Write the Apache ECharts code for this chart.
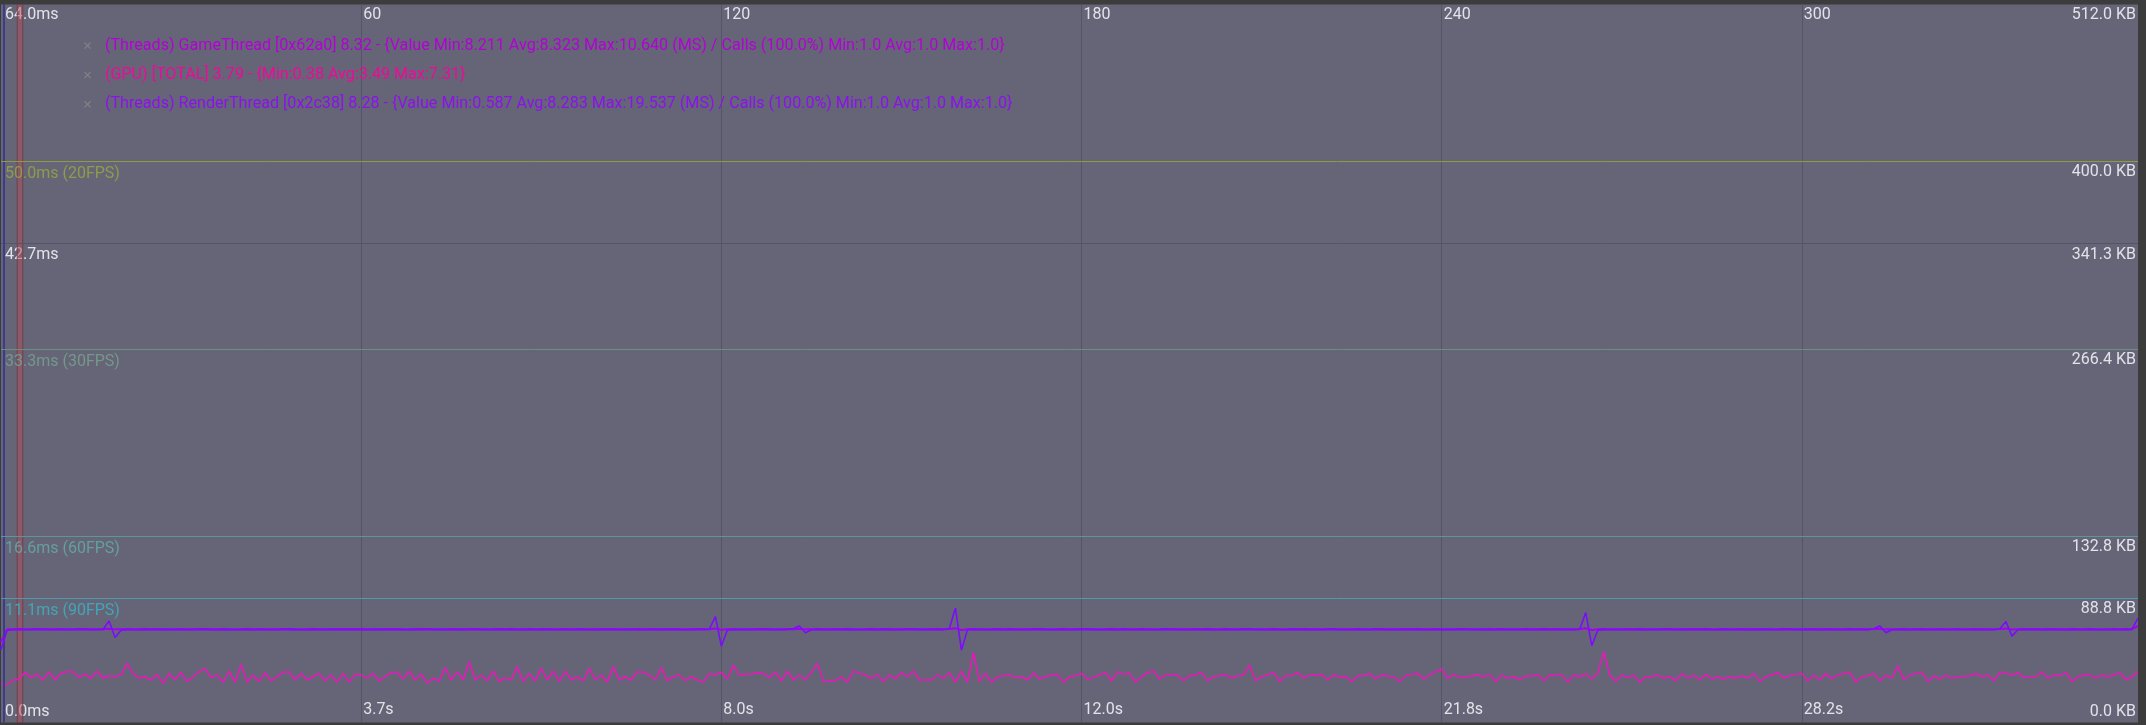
<!DOCTYPE html>
<html><head><meta charset="utf-8">
<script src="https://cdn.jsdelivr.net/npm/echarts@6/dist/echarts.min.js"></script>
<style>html,body{margin:0;padding:0;background:#3c3c3c;}#c{width:2146px;height:725px;}</style>
</head><body><div id="c"></div>
<script>
// ---- data ----
const frameTicks = [60, 120, 180, 240, 300];
const timeLabels = ['3.7s', '8.0s', '12.0s', '21.8s', '28.2s'];
const msTicks = [0, 42.667, 64];
const kbTicks = [0, 88.8, 132.8, 266.4, 341.3, 400, 512];
const fpsLines = [[50.0, 20], [33.3, 30], [16.6, 60], [11.1, 90]];
const seriesNames = [
  '(Threads) GameThread [0x62a0] 8.32 - {Value Min:8.211 Avg:8.323 Max:10.640 (MS) / Calls (100.0%) Min:1.0 Avg:1.0 Max:1.0}',
  '(GPU) [TOTAL] 3.79 - {Min:0.38 Avg:3.49 Max:7.31}',
  '(Threads) RenderThread [0x2c38] 8.28 - {Value Min:0.587 Avg:8.283 Max:19.537 (MS) / Calls (100.0%) Min:1.0 Avg:1.0 Max:1.0}'
];
const gameThread = [
7.20,8.30,8.32,8.33,8.32,8.31,8.33,8.34,8.32,8.32,8.33,8.31,8.32,8.34,8.33,8.32,8.31,8.32,8.36,8.30,
8.32,8.33,8.32,8.31,8.33,8.32,8.34,8.32,8.31,8.32,8.33,8.32,8.32,8.34,8.33,8.31,8.32,8.33,8.32,8.31,
8.32,8.34,8.32,8.33,8.32,8.31,8.32,8.33,8.34,8.32,8.31,8.32,8.33,8.32,8.32,8.31,8.33,8.32,8.34,8.32,
8.33,8.32,8.31,8.32,8.34,8.32,8.33,8.32,8.31,8.32,8.33,8.34,8.32,8.32,8.31,8.33,8.32,8.32,8.34,8.33,
8.32,8.31,8.32,8.33,8.32,8.34,8.32,8.31,8.33,8.32,8.32,8.33,8.31,8.32,8.34,8.32,8.33,8.32,8.31,8.32,
8.33,8.32,8.34,8.32,8.31,8.32,8.33,8.32,8.32,8.34,8.31,8.32,8.33,8.32,8.32,8.31,8.33,8.34,8.32,8.38,
8.26,8.32,8.33,8.32,8.31,8.32,8.34,8.33,8.32,8.31,8.32,8.33,8.32,8.36,8.30,8.32,8.33,8.31,8.32,8.34,
8.32,8.33,8.32,8.31,8.32,8.34,8.32,8.33,8.32,8.31,8.32,8.33,8.34,8.32,8.31,8.32,8.33,8.32,8.34,8.40,
8.24,8.32,8.33,8.32,8.31,8.32,8.34,8.32,8.33,8.31,8.32,8.32,8.33,8.34,8.32,8.31,8.32,8.33,8.32,8.32,
8.34,8.33,8.31,8.32,8.32,8.33,8.32,8.34,8.31,8.32,8.33,8.32,8.32,8.31,8.34,8.33,8.32,8.32,8.31,8.33,
8.32,8.34,8.32,8.31,8.33,8.32,8.32,8.33,8.34,8.31,8.32,8.32,8.33,8.32,8.31,8.34,8.32,8.33,8.32,8.32,
8.31,8.33,8.34,8.32,8.32,8.31,8.33,8.32,8.32,8.34,8.33,8.31,8.32,8.32,8.33,8.32,8.34,8.31,8.32,8.33,
8.32,8.32,8.31,8.34,8.33,8.32,8.32,8.31,8.33,8.32,8.34,8.32,8.31,8.32,8.33,8.32,8.32,8.34,8.31,8.33,
8.32,8.32,8.31,8.33,8.40,8.24,8.32,8.33,8.32,8.31,8.32,8.34,8.32,8.33,8.32,8.31,8.32,8.33,8.34,8.32,
8.31,8.32,8.33,8.32,8.34,8.32,8.31,8.33,8.32,8.32,8.34,8.31,8.32,8.33,8.32,8.32,8.31,8.34,8.33,8.32,
8.32,8.31,8.33,8.32,8.34,8.32,8.32,8.31,8.33,8.32,8.34,8.32,8.33,8.36,8.30,8.32,8.31,8.33,8.32,8.32,
8.34,8.32,8.31,8.33,8.32,8.32,8.34,8.31,8.32,8.33,8.32,8.32,8.31,8.33,8.38,8.28,8.32,8.33,8.32,8.34,
8.32,8.31,8.33,8.32,8.32,8.34,8.31,8.32,8.33,8.32,8.32,8.31,8.33,8.32,8.34,8.32,8.60
];
const gpuTotal = [
3.49,3.34,3.79,3.85,4.47,4.00,4.32,3.79,4.53,3.79,4.38,4.53,4.53,4.00,4.32,3.94,4.59,3.94,4.17,4.08,
4.23,5.27,4.38,3.94,4.08,3.79,4.29,3.49,4.38,3.79,4.47,3.64,4.08,4.53,4.83,4.00,4.23,3.58,4.59,3.58,
5.18,3.58,4.23,3.64,4.44,3.70,4.08,4.47,4.53,3.79,4.38,3.79,4.08,4.38,3.70,4.23,3.58,4.38,3.58,4.29,
4.23,3.94,4.38,3.70,4.08,4.44,4.47,3.88,4.59,3.79,4.32,3.49,3.94,3.70,4.89,3.79,4.53,3.79,5.42,3.79,
4.23,3.70,4.59,3.64,4.00,3.79,4.98,3.64,4.38,3.70,4.83,3.79,4.59,3.64,4.59,3.79,4.08,3.70,4.83,3.79,
4.23,3.58,4.98,3.79,4.08,3.79,4.53,4.47,4.23,3.79,4.89,3.70,4.08,4.23,3.70,4.08,3.79,3.58,4.38,4.23,
4.47,3.88,5.12,4.23,4.29,4.32,4.44,4.38,4.00,4.53,3.70,4.59,3.79,4.23,3.79,4.47,5.27,3.70,3.70,3.70,
4.08,3.58,4.59,4.38,4.23,3.94,4.29,3.64,4.23,3.88,4.44,4.08,4.59,3.79,3.79,3.79,4.23,3.94,4.44,3.58,
4.59,3.58,6.25,3.64,4.38,3.58,4.08,4.17,4.23,4.00,4.08,3.79,4.44,3.88,4.08,4.23,4.29,3.58,4.08,4.17,
4.38,3.85,4.00,4.23,4.47,3.70,4.53,4.29,4.38,3.58,4.08,4.44,4.59,3.88,4.23,4.23,4.23,3.70,4.17,4.23,
4.47,3.70,4.08,4.17,4.29,3.94,4.14,4.23,5.12,3.70,4.08,4.23,4.47,3.64,4.17,4.17,4.47,3.94,4.23,4.23,
4.29,3.79,4.23,4.08,4.11,3.64,4.17,4.17,4.38,3.88,4.23,4.14,4.08,3.64,4.17,4.29,4.38,3.88,4.23,4.53,
4.77,3.94,4.29,4.00,4.08,4.14,4.23,4.08,4.29,3.64,4.23,3.94,4.08,3.79,4.14,4.14,4.29,3.70,4.23,4.17,
4.29,3.58,4.23,4.08,4.35,3.88,4.38,6.31,4.23,3.64,4.23,4.00,4.23,3.58,4.08,4.08,4.23,3.94,4.08,3.70,
4.38,3.94,4.23,3.79,4.29,3.88,4.08,3.88,4.08,3.94,4.17,3.94,4.38,3.64,4.08,4.23,4.47,3.94,4.17,4.29,
4.38,3.70,4.23,3.79,4.38,3.88,4.23,4.38,4.47,3.58,4.08,4.17,4.38,3.70,4.23,3.94,5.04,3.79,4.23,4.38,
4.47,3.64,4.14,3.88,4.23,3.94,4.08,4.11,4.17,4.38,4.08,4.23,3.70,4.47,4.38,4.23,4.44,4.00,4.08,4.08,
4.53,3.94,4.23,4.17,4.47,3.64,4.08,4.23,4.23,3.94,4.23,4.08,4.23,4.47,3.79,4.08,4.53
];
const renderThread = [
6.50,8.20,8.27,8.29,8.26,8.28,8.30,8.27,8.28,8.26,8.29,8.28,8.27,8.30,8.28,8.26,8.28,8.29,9.05,7.58,
8.22,8.28,8.27,8.29,8.28,8.26,8.28,8.30,8.27,8.28,8.29,8.26,8.28,8.27,8.30,8.28,8.26,8.29,8.28,8.27,
8.28,8.30,8.26,8.28,8.27,8.29,8.28,8.26,8.30,8.28,8.27,8.28,8.29,8.26,8.28,8.30,8.27,8.28,8.26,8.29,
8.28,8.27,8.30,8.28,8.26,8.28,8.29,8.27,8.28,8.30,8.26,8.28,8.27,8.29,8.28,8.26,8.30,8.28,8.27,8.28,
8.29,8.26,8.28,8.30,8.27,8.28,8.26,8.29,8.28,8.27,8.30,8.28,8.26,8.28,8.29,8.27,8.28,8.30,8.26,8.28,
8.27,8.29,8.28,8.26,8.30,8.28,8.27,8.28,8.29,8.26,8.28,8.30,8.27,8.28,8.26,8.29,8.28,8.27,8.30,9.45,
6.80,8.25,8.28,8.27,8.29,8.28,8.26,8.28,8.30,8.27,8.28,8.29,8.35,8.60,8.00,8.26,8.28,8.27,8.29,8.28,
8.26,8.30,8.28,8.27,8.28,8.29,8.26,8.28,8.30,8.27,8.28,8.26,8.29,8.28,8.27,8.30,8.28,8.26,8.40,10.20,
6.45,8.26,8.28,8.29,8.27,8.28,8.30,8.26,8.28,8.27,8.29,8.28,8.26,8.30,8.28,8.27,8.28,8.29,8.26,8.28,
8.30,8.27,8.28,8.26,8.29,8.28,8.27,8.30,8.28,8.26,8.28,8.29,8.27,8.28,8.30,8.26,8.28,8.27,8.29,8.28,
8.26,8.30,8.28,8.27,8.28,8.29,8.26,8.28,8.30,8.27,8.28,8.26,8.29,8.28,8.27,8.30,8.28,8.26,8.28,8.29,
8.27,8.28,8.30,8.26,8.28,8.27,8.29,8.28,8.26,8.30,8.28,8.27,8.28,8.29,8.26,8.28,8.30,8.27,8.28,8.26,
8.29,8.28,8.27,8.30,8.28,8.26,8.28,8.29,8.27,8.28,8.30,8.26,8.28,8.27,8.29,8.28,8.26,8.30,8.28,8.27,
8.28,8.29,8.26,8.30,9.80,6.85,8.22,8.28,8.27,8.29,8.28,8.26,8.28,8.30,8.27,8.28,8.29,8.26,8.28,8.27,
8.30,8.28,8.26,8.29,8.28,8.27,8.28,8.30,8.26,8.28,8.27,8.29,8.28,8.26,8.30,8.28,8.27,8.28,8.29,8.26,
8.28,8.30,8.27,8.28,8.26,8.29,8.28,8.27,8.30,8.28,8.26,8.28,8.35,8.60,8.00,8.27,8.29,8.28,8.26,8.30,
8.28,8.27,8.28,8.29,8.26,8.28,8.30,8.27,8.28,8.26,8.29,8.28,8.27,8.35,9.00,7.70,8.26,8.28,8.29,8.27,
8.28,8.30,8.26,8.28,8.27,8.29,8.28,8.26,8.30,8.28,8.27,8.28,8.29,8.26,8.28,8.30,9.30
];

// ---- styles ----
const lineColors = ['#a400f4', '#f014be', '#7c0cff'];
const legendTextColors = ['#b400d8', '#f0089c', '#8c10f0'];
const fpsLineColors = ['#8e9c3e', '#6c9080', '#5c9696', '#4a9cae'];
const fpsLabelColors = ['#8e9c4a', '#74988a', '#62a0a0', '#40a6b8'];
const FONT = 'Roboto';
const labelColor = '#e2e2ea';
const maxFrame = gameThread.length - 1;

const chart = echarts.init(document.getElementById('c'), null, {renderer: 'canvas'});

function shifted(text, isBottom) {
  return isBottom ? '{b|' + text + '}' : '{t|' + text + '}';
}
const richShift = {
  t: {padding: [22, 0, 0, 0], color: labelColor, fontSize: 16, fontFamily: FONT},
  b: {padding: [0, 0, 22, 0], color: labelColor, fontSize: 16, fontFamily: FONT}
};

const toPairs = arr => arr.map((v, i) => [i, v]);

const option = {
  backgroundColor: '#3c3c3c',
  animation: false,
  grid: {left: 1, right: 8, top: 4.4, bottom: 2.5, show: true, backgroundColor: '#666577', borderWidth: 0, containLabel: false},
  legend: {
    orient: 'vertical', left: 79, top: 31, itemGap: 10.4, itemWidth: 25, itemHeight: 7,
    icon: 'path://M0,1 L1,0 L4,3 L7,0 L8,1 L5,4 L8,7 L7,8 L4,5 L1,8 L0,7 L3,4 Z',
    itemStyle: {color: '#808088'},
    selectedMode: false,
    textStyle: {fontFamily: FONT, fontSize: 16.1, lineHeight: 19},
    data: seriesNames.map((n, i) => ({name: n, textStyle: {color: legendTextColors[i]}}))
  },
  xAxis: [
    {
      type: 'value', position: 'bottom', min: 0, max: maxFrame, interval: 60,
      axisLine: {show: false}, axisTick: {show: false},
      splitLine: {show: true, showMinLine: false, showMaxLine: false, lineStyle: {color: '#555467', width: 1}},
      axisLabel: {
        inside: true, customValues: frameTicks, margin: 5, align: 'left', verticalAlign: 'bottom',
        color: labelColor, fontSize: 16, fontFamily: FONT, padding: [0, 0, 0, 2],
        formatter: v => timeLabels[frameTicks.indexOf(Math.round(v))] || ''
      }
    },
    {
      type: 'value', position: 'top', min: 0, max: maxFrame, interval: 60,
      axisLine: {show: false}, axisTick: {show: false}, splitLine: {show: false},
      axisLabel: {
        inside: true, customValues: frameTicks, margin: 3, align: 'left', verticalAlign: 'top',
        color: labelColor, fontSize: 16, fontFamily: FONT, padding: [0, 0, 0, 2],
        formatter: v => String(Math.round(v))
      }
    }
  ],
  yAxis: [
    {
      type: 'value', position: 'left', min: 0, max: 64,
      axisLine: {show: false}, axisTick: {show: false}, splitLine: {show: false},
      axisLabel: {
        inside: true, customValues: msTicks, margin: 4, align: 'left',
        formatter: v => shifted(v.toFixed(1) + 'ms', v === 0), rich: richShift
      }
    },
    {
      type: 'value', position: 'right', min: 0, max: 512,
      axisLine: {show: false}, axisTick: {show: false}, splitLine: {show: false},
      axisLabel: {
        inside: true, customValues: kbTicks, margin: 2, align: 'right',
        formatter: v => shifted(v.toFixed(1) + ' KB', v === 0), rich: richShift
      }
    }
  ],
  series: [
    {
      name: seriesNames[1], type: 'line', data: toPairs(gpuTotal), showSymbol: false, symbol: 'none',
      lineStyle: {color: lineColors[1], width: 1.5}, itemStyle: {color: lineColors[1]}, z: 3,
      markLine: {
        silent: true, symbol: ['none', 'none'], animation: false,
        label: {position: 'insideStartBottom', fontFamily: FONT, fontSize: 16, distance: [4, 5]},
        data: [
          {yAxis: 42.667, lineStyle: {color: '#555467', width: 1, type: 'solid'}, label: {show: false}},
          {xAxis: 0.45, lineStyle: {color: '#3b3b90', width: 2, type: 'solid'}, label: {show: false}}
        ].concat(fpsLines.map(([ms, fps], i) => ({
          yAxis: ms,
          lineStyle: {color: fpsLineColors[i], width: 1, type: 'solid'},
          label: {formatter: ms.toFixed(1) + 'ms (' + fps + 'FPS)', color: fpsLabelColors[i]}
        })))
      },
      markArea: {
        silent: true,
        itemStyle: {color: 'rgba(176,78,90,0.5)', borderColor: 'rgba(110,60,75,0.9)', borderWidth: 1},
        data: [[{xAxis: 2.7}, {xAxis: 3.63}]]
      }
    },
    {
      name: seriesNames[0], type: 'line', data: toPairs(gameThread), showSymbol: false, symbol: 'none',
      lineStyle: {color: lineColors[0], width: 2}, itemStyle: {color: lineColors[0]}, z: 4
    },
    {
      name: seriesNames[2], type: 'line', data: toPairs(renderThread), showSymbol: false, symbol: 'none',
      lineStyle: {color: lineColors[2], width: 1.6}, itemStyle: {color: lineColors[2]}, z: 5
    }
  ]
};
chart.setOption(option);
</script>
</body></html>
